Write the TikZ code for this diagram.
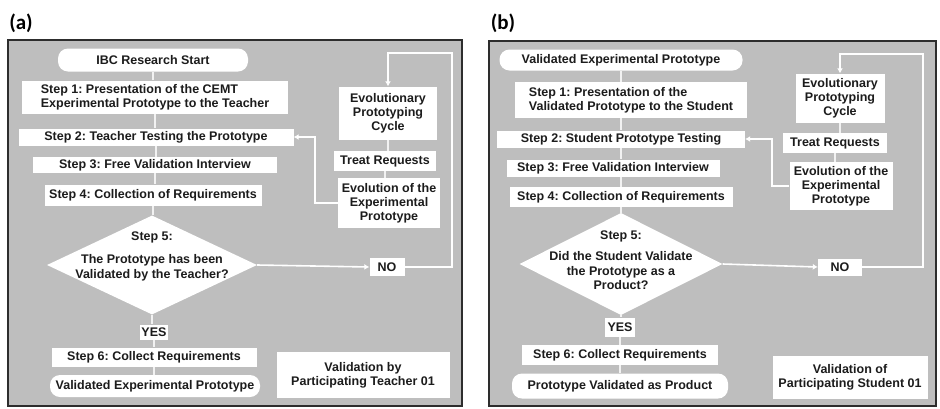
\documentclass[tikz,border=0pt]{standalone}
\usepackage{fontspec}
\setmainfont{Liberation Sans}
\newfontfamily\labelfont{Carlito}
\usetikzlibrary{arrows.meta,shapes.geometric}
\frenchspacing

\definecolor{panelgray}{RGB}{190,190,190}
\definecolor{framegray}{RGB}{45,45,45}
\definecolor{inkgray}{RGB}{28,28,28}

\tikzset{
	panel/.style={draw=framegray, fill=panelgray, line width=1.6pt},
	stepbox/.style={fill=white, inner sep=0pt, align=center, text=inkgray,
		font=\fontsize{12.5}{14}\selectfont\bfseries},
	startbox/.style={stepbox, rounded corners=10pt},
	decision/.style={diamond, fill=white, inner sep=0pt},
	qtext/.style={align=center, text=inkgray, font=\fontsize{12.5}{14.5}\selectfont\bfseries},
	tag/.style={font=\labelfont\fontsize{21}{22}\selectfont\bfseries},
	link/.style={draw=white, line width=1.6pt},
	flow/.style={link, -{Latex[length=5pt,width=6pt]}},
	tick/.style={draw=white!80!panelgray, line width=1.4pt},
}

\begin{document}
\begin{tikzpicture}[x=1pt, y=-1pt]
			%%%%% START %%%%%
			\useasboundingbox (0, 0) rectangle (940, 408);
			
			%%%%% (a) %%%%%
			\node[tag] (taga) at (21, 23) {(a)};
			\draw[panel] (8, 40) rectangle (462, 406);
			
			\node[startbox, minimum width=190pt, minimum height=23pt] (starta) at (153, 60) {IBC Research Start};
			\node[stepbox, minimum width=266pt, minimum height=33pt, align=left] (s1a) at (155, 97) {Step 1: Presentation of the CEMT\\Experimental Prototype to the Teacher};
			\node[stepbox, minimum width=275pt, minimum height=17pt] (s2a) at (156, 137) {Step 2: Teacher Testing the Prototype};
			\node[stepbox, minimum width=244pt, minimum height=16pt] (s3a) at (155, 165) {Step 3: Free Validation Interview};
			\node[stepbox, minimum width=217pt, minimum height=21pt] (s4a) at (153, 195) {Step 4: Collection of Requirements};
			\node[decision, minimum width=210pt, minimum height=99pt] (d5a) at (152, 265) {};
			\node[qtext] (q5a) at (152, 256) {Step 5:\\[9pt]The Prototype has been\\Validated by the Teacher?};
			\node[stepbox, minimum width=28pt, minimum height=15pt] (yesa) at (154, 332) {YES};
			\node[stepbox, minimum width=205pt, minimum height=19pt] (s6a) at (154, 357) {Step 6: Collect Requirements};
			\node[startbox, minimum width=210pt, minimum height=22pt] (enda) at (155, 386) {Validated Experimental Prototype};
			\node[stepbox, minimum width=173pt, minimum height=46pt] (notea) at (363, 375) {Validation by\\Participating Teacher 01};
			
			\node[stepbox, minimum width=98pt, minimum height=53pt] (cyca) at (388, 113) {Evolutionary\\Prototyping\\Cycle};
			\node[stepbox, minimum width=102pt, minimum height=20pt] (treata) at (385, 161) {Treat Requests};
			\node[stepbox, minimum width=102pt, minimum height=50pt] (evoa) at (389, 203) {Evolution of the\\Experimental\\Prototype};
			\node[stepbox, minimum width=35pt, minimum height=18pt] (noa) at (387, 267) {NO};
			
			\coordinate (ra) at (452, 53);
			\coordinate (ka) at (315, 150);
			
			\draw[tick] (starta.south) -- (starta.south |- s1a.north);
			\draw[tick] (s1a.south) -- (s1a.south |- s2a.north);
			\draw[tick] (s2a.south) -- (s2a.south |- s3a.north);
			\draw[tick] (s3a.south) -- (s3a.south |- s4a.north);
			\draw[tick] (s4a.south) -- (s4a.south |- d5a.north);
			\draw[tick] (d5a.south) -- (d5a.south |- yesa.north);
			\draw[tick] (yesa.south) -- (yesa.south |- s6a.north);
			\draw[tick] (s6a.south) -- (s6a.south |- enda.north);
			\draw[tick] (cyca.south) -- (cyca.south |- treata.north);
			\draw[tick] (treata.south) -- (treata.south |- evoa.north);
			
			\draw[flow] (d5a.east) -- (noa.west);
			\draw[flow] (noa.east) -| (ra) -| (cyca.north);
			\draw[flow] (evoa.west) -| (ka) |- (s2a.east);
			
			%%%%% (b) %%%%%
			\node[tag] (tagb) at (503, 23) {(b)};
			\draw[panel] (489, 41) rectangle (936, 406);
			
			\node[startbox, minimum width=243pt, minimum height=21pt] (startb) at (621, 60) {Validated Experimental Prototype};
			\node[stepbox, minimum width=232pt, minimum height=36pt, align=left] (s1b) at (631, 100) {Step 1: Presentation of the\\Validated Prototype to the Student};
			\node[stepbox, minimum width=248pt, minimum height=17pt] (s2b) at (621, 139) {Step 2: Student Prototype Testing};
			\node[stepbox, minimum width=213pt, minimum height=17pt] (s3b) at (613, 168) {Step 3: Free Validation Interview};
			\node[stepbox, minimum width=223pt, minimum height=20pt] (s4b) at (621, 197) {Step 4: Collection of Requirements};
			\node[decision, minimum width=203pt, minimum height=102pt] (d5b) at (621, 264) {};
			\node[qtext] (q5b) at (621, 260) {Step 5:\\[7pt]Did the Student Validate\\the Prototype as a\\Product?};
			\node[stepbox, minimum width=30pt, minimum height=19pt] (yesb) at (620, 327) {YES};
			\node[stepbox, minimum width=196pt, minimum height=20pt] (s6b) at (620, 355) {Step 6: Collect Requirements};
			\node[startbox, minimum width=216pt, minimum height=25pt] (endb) at (620, 386) {Prototype Validated as Product};
			\node[stepbox, minimum width=155pt, minimum height=43pt] (noteb) at (850, 377) {Validation of\\Participating Student 01};
			
			\node[stepbox, minimum width=89pt, minimum height=49pt] (cycb) at (840, 98) {Evolutionary\\Prototyping\\Cycle};
			\node[stepbox, minimum width=104pt, minimum height=20pt] (treatb) at (835, 143) {Treat Requests};
			\node[stepbox, minimum width=103pt, minimum height=48pt] (evob) at (841, 186) {Evolution of the\\Experimental\\Prototype};
			\node[stepbox, minimum width=44pt, minimum height=17pt] (nob) at (840, 267) {NO};
			
			\coordinate (rb) at (923, 54);
			\coordinate (kb) at (772, 160);
			
			\draw[tick] (startb.south) -- (startb.south |- s1b.north);
			\draw[tick] (s1b.south -| s2b.north) -- (s2b.north);
			\draw[tick] (s2b.south) -- (s2b.south |- s3b.north);
			\draw[tick] (s3b.south -| s4b.north) -- (s4b.north);
			\draw[tick] (s4b.south) -- (s4b.south |- d5b.north);
			\draw[tick] (d5b.south) -- (d5b.south |- yesb.north);
			\draw[tick] (yesb.south) -- (yesb.south |- s6b.north);
			\draw[tick] (s6b.south) -- (s6b.south |- endb.north);
			\draw[tick] (cycb.south) -- (cycb.south |- treatb.north);
			\draw[tick] (treatb.south) -- (treatb.south |- evob.north);
			
			\draw[flow] (d5b.east) -- (nob.west);
			\draw[flow] (nob.east) -| (rb) -| (cycb.north);
			\draw[flow] (evob.west) -| (kb) |- (s2b.east);
			
			%%%%% END %%%%%
\end{tikzpicture}
\end{document}
